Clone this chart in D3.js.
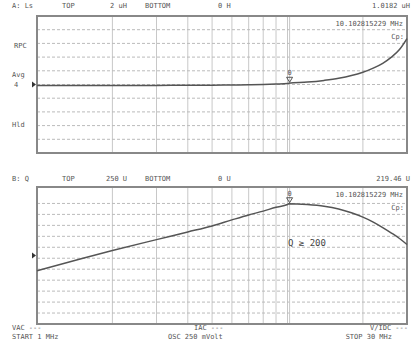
<!DOCTYPE html>
<html lang="en">
    <head>
        <meta charset="utf-8">
        <title>Ls / Q sweep</title>
        <script type="text/javascript" src="https://cdn.jsdelivr.net/npm/d3@7"></script>
        <style type="text/css">
            body { margin: 0; background: white; }
            text { font-family: "DejaVu Sans Mono", monospace; fill: #555; }
        </style>
    </head>
    <body>
        <script type="text/javascript">

            // sweep points (MHz)
            var freqs = [1, 1.5, 2, 3, 4, 5, 6, 7, 8, 9, 10, 10.1, 12, 14, 16, 18, 20, 22, 24, 26, 28, 30];
            // trace A: Ls (uH)
            var lsValues = [0.985, 0.985, 0.986, 0.987, 0.988, 0.990, 0.993, 0.997, 1.001, 1.007, 1.015, 1.018,
                            1.035, 1.06, 1.09, 1.13, 1.18, 1.24, 1.31, 1.40, 1.51, 1.67];
            // trace B: Q
            var qValues = [97, 119, 134, 154, 168, 179, 190, 199, 206, 213, 218, 219.46,
                           218, 215, 210, 203, 195, 186, 176, 166, 156, 145];

            var markerFreq = 10.1028;

            var w = 413;
            var h = 346;
            var left = 37, right = 407;

            var svg = d3.select("body")
                  .append("svg")
                  .attr("width", w)
                  .attr("height", h);

            svg.append("rect")
              .attr("width", "100%")
              .attr("height", "100%")
              .attr("fill", "white");

            var xScale = d3.scaleLog()
                .domain([1, 30])
                .range([left, right]);

            //refLevel = where the little arrow on the left sits
            function drawPanel(top, bottom, domain, values, refLevel) {
              var yScale = d3.scaleLinear()
                .domain(domain)
                .range([bottom, top]);

              var g = svg.append("g");

              //vertical log grid
              g.selectAll("line.vgrid")
                .data(xScale.ticks().filter(function(d) { return d > 1 && d < 30; }))
                .enter()
                .append("line")
                .attr("x1", function(d) { return xScale(d); })
                .attr("x2", function(d) { return xScale(d); })
                .attr("y1", top)
                .attr("y2", bottom)
                .attr("stroke", "#c8c8c8")
                .attr("stroke-width", 1);

              //horizontal dashed grid
              g.selectAll("line.hgrid")
                .data(yScale.ticks(10).slice(1, -1))
                .enter()
                .append("line")
                .attr("x1", left)
                .attr("x2", right)
                .attr("y1", function(d) { return yScale(d); })
                .attr("y2", function(d) { return yScale(d); })
                .attr("stroke", "#bbb")
                .attr("stroke-dasharray", "3,2")
                .attr("stroke-width", 1);

              //marker line
              g.append("line")
                .attr("x1", xScale(markerFreq) + 1)
                .attr("x2", xScale(markerFreq) + 1)
                .attr("y1", top)
                .attr("y2", bottom)
                .attr("stroke", "#c8c8c8");

              g.append("rect")
                .attr("x", left)
                .attr("y", top)
                .attr("width", right - left)
                .attr("height", bottom - top)
                .attr("fill", "none")
                .attr("stroke", "#888")
                .attr("stroke-width", 2);

              var line = d3.line()
                .x(function(d, i) { return xScale(freqs[i]); })
                .y(function(d) { return yScale(d); })
                .curve(d3.curveMonotoneX);

              g.append("path")
                .datum(values)
                .attr("d", line)
                .attr("fill", "none")
                .attr("stroke", "#555")
                .attr("stroke-width", 1.5);

              //marker symbol
              var mi = freqs.indexOf(10.1);
              var mx = xScale(markerFreq) + 1, my = yScale(values[mi]);
              g.append("path")
                .attr("d", "M" + (mx - 3) + "," + (my - 6) + "L" + (mx + 3) + "," + (my - 6) + "L" + mx + "," + (my - 1) + "Z")
                .attr("fill", "none")
                .attr("stroke", "#555");
              g.append("text")
                .attr("x", mx)
                .attr("y", my - 8)
                .attr("text-anchor", "middle")
                .attr("font-size", "7px")
                .text("0");

              //reference arrow on the left
              var ay = yScale(refLevel);
              g.append("path")
                .attr("d", "M32," + (ay - 3) + "L36," + ay + "L32," + (ay + 3) + "Z")
                .attr("fill", "#333");

              return yScale;
            }

            drawPanel(16, 153, [0, 2], lsValues, 1);
            drawPanel(187, 324, [0, 250], qValues, 125);

            //text
            var labels = [
              ["A: Ls", 12, 8, "start"], ["TOP", 62, 8, "start"], ["2 uH", 110, 8, "start"],
              ["BOTTOM", 145, 8, "start"], ["0 H", 218, 8, "start"], ["1.0182 uH", 410, 8, "end"],
              ["10.102815229 MHz", 403, 26, "end"], ["Cp:", 404, 39, "end"],
              ["RPC", 14, 48, "start"], ["Avg", 12, 77, "start"], ["4", 14, 87, "start"], ["Hld", 12, 127, "start"],
              ["B: Q", 12, 181, "start"], ["TOP", 62, 181, "start"], ["250 U", 106, 181, "start"],
              ["BOTTOM", 145, 181, "start"], ["0 U", 218, 181, "start"], ["219.46 U", 410, 181, "end"],
              ["10.102815229 MHz", 403, 197, "end"], ["Cp:", 404, 210, "end"],
              ["VAC ---", 12, 330, "start"], ["START  1 MHz", 12, 339, "start"],
              ["IAC ---", 194, 330, "start"], ["OSC  250 mVolt", 168, 339, "start"],
              ["V/IDC ---", 408, 330, "end"], ["STOP  30 MHz", 392, 339, "end"]
            ];

            svg.selectAll("text.lbl")
              .data(labels)
              .enter()
              .append("text")
              .attr("class", "lbl")
              .attr("x", function(d) { return d[1]; })
              .attr("y", function(d) { return d[2]; })
              .attr("text-anchor", function(d) { return d[3]; })
              .attr("font-size", "7px")
              .text(function(d) { return d[0]; });

            svg.append("text")
              .attr("x", 288)
              .attr("y", 246)
              .attr("font-size", "9px")
              .attr("font-family", "DejaVu Sans, sans-serif")
              .style("fill", "#444")
              .text("Q \u2265 200");

        </script>
    </body>
</html>
